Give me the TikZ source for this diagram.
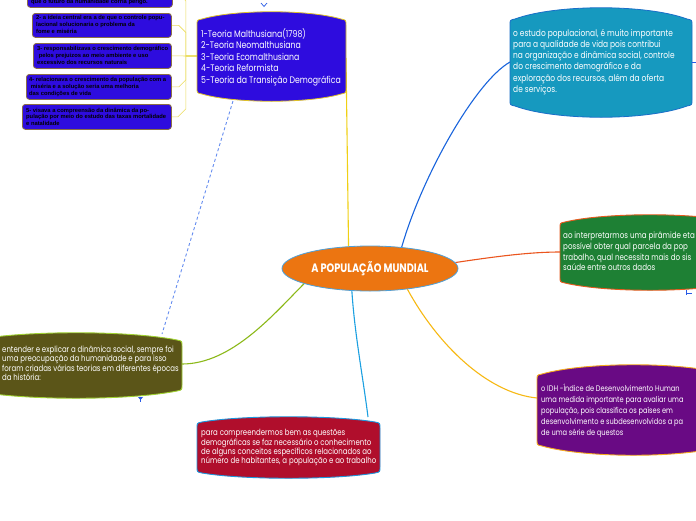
\documentclass[tikz,border=0pt]{standalone}
\usepackage{fontspec}
\usetikzlibrary{shapes.geometric,backgrounds}
\newfontfamily\nf[FakeStretch=0.82]{Poppins}
\newfontfamily\tf[FakeStretch=0.8]{Poppins}
\newfontfamily\smallfont{Liberation Sans}
\definecolor{themeblue}{RGB}{46,12,222}
\definecolor{theoryborder}{RGB}{222,192,40}
\definecolor{tealfill}{RGB}{22,153,191}
\definecolor{tealborder}{RGB}{25,110,200}
\definecolor{greenfill}{RGB}{30,128,52}
\definecolor{greenborder}{RGB}{232,90,30}
\definecolor{purplefill}{RGB}{105,10,132}
\definecolor{purpleborder}{RGB}{245,170,30}
\definecolor{redfill}{RGB}{176,14,44}
\definecolor{redborder}{RGB}{30,150,220}
\definecolor{olivefill}{RGB}{91,85,24}
\definecolor{oliveborder}{RGB}{160,210,50}
\definecolor{orangefill}{RGB}{236,117,17}
\definecolor{ellborder}{RGB}{80,160,215}
\definecolor{cyellow}{RGB}{240,208,20}
\definecolor{cblue}{RGB}{25,100,220}
\definecolor{corange}{RGB}{235,85,30}
\definecolor{camber}{RGB}{247,185,20}
\definecolor{clight}{RGB}{28,160,225}
\definecolor{cgreen}{RGB}{140,185,25}
\definecolor{cdash}{RGB}{100,140,240}
\definecolor{csmall}{RGB}{235,220,90}
\definecolor{smallborder}{RGB}{140,110,70}
\definecolor{markblue}{RGB}{40,90,230}
\newcommand{\bulgebox}[6]{%
 \pgfmathsetmacro\bxl{#1}\pgfmathsetmacro\bxr{#3}%
 \pgfmathsetmacro\bya{#2+#5}%
 \pgfmathsetmacro\byb{#4-#5}%
 \pgfmathsetmacro\byc{#2-#5/3}%
 \pgfmathsetmacro\byd{#4+#5/3}%
 \pgfmathsetmacro\bxa{#1+(#3-#1)/4}%
 \pgfmathsetmacro\bxb{#3-(#3-#1)/4}%
 \path[#6] (\bxl,\bya+5) -- (\bxl,\byb-5) .. controls (\bxl,\byb) .. (\bxl+5,\byb+1)
   .. controls (\bxa,\byd) and (\bxb,\byd) .. (\bxr-5,\byb+1)
   .. controls (\bxr,\byb) .. (\bxr,\byb-5) -- (\bxr,\bya+5)
   .. controls (\bxr,\bya) .. (\bxr-5,\bya-1)
   .. controls (\bxb,\byc) and (\bxa,\byc) .. (\bxl+5,\bya-1)
   .. controls (\bxl,\bya) .. cycle;}
\begin{document}
\begin{tikzpicture}[x=1pt,y=-1pt,
  mtext/.style={anchor=north west, inner sep=0pt, align=left, text=white},
  stext/.style={anchor=north west, inner sep=0pt, align=left, text=black, font=\smallfont\bfseries\fontsize{5.8}{6.7}\selectfont},
  smallbox/.style={draw=smallborder, fill=themeblue, rounded corners=3pt, line width=0.8pt, inner sep=0pt, anchor=north west},
  smallconn/.style={draw=csmall, line width=0.6pt},
  conn/.style={line width=1.1pt},
  marker/.style={draw=markblue, line width=0.7pt}]
\useasboundingbox (0,0) rectangle (696,520);
\clip (0,0) rectangle (696,520);
\begin{scope}[on background layer]
\fill[white] (0,0) rectangle (696,520);
\end{scope}
% connection points
\coordinate (thL) at (197,56);
\coordinate (thR) at (346,58);
\coordinate (thB) at (233,101);
\coordinate (tealL) at (510,62);
\coordinate (greenL) at (560,252);
\coordinate (purpL) at (537,398);
\coordinate (redT) at (368,417);
\coordinate (oliveR) at (182,364);
\coordinate (oliveT) at (162,334);
% main boxes
\bulgebox{197}{12}{346}{101}{8}{fill=themeblue,draw=theoryborder,line width=0.8pt}
\bulgebox{510}{8}{692}{117}{12}{fill=tealfill,draw=tealborder,line width=0.8pt}
\bulgebox{560}{215}{740}{290}{8}{fill=greenfill,draw=greenborder,line width=0.9pt}
\bulgebox{537}{365}{730}{455}{10}{fill=purplefill,draw=purpleborder,line width=0.9pt}
\bulgebox{197}{417}{380}{478}{6}{fill=redfill,draw=redborder,line width=0.9pt}
\bulgebox{-30}{333}{182}{398}{8}{fill=olivefill,draw=oliveborder,line width=0.9pt}
% central node
\node[ellipse, fill=orangefill, draw=ellborder, line width=0.8pt, minimum width=176pt, minimum height=45pt, inner sep=0pt, text=white, font=\tf\bfseries\fontsize{12.2}{13}\selectfont] (c) at (370,268.5) {A POPULAÇÃO MUNDIAL};
% texts
\node[mtext, font=\nf\fontsize{9.5}{11.5}\selectfont] (thtext) at (201,28) {1-Teoria Malthusiana(1798)\\2-Teoria Neomalthusiana\\3-Teoria Ecomalthusiana\\4-Teoria Reformista\\5-Teoria da Transição Demográfica};
\node[mtext, font=\nf\fontsize{9.1}{11.2}\selectfont] (tealtext) at (513,29) {o estudo populacional, é muito importante\\para a qualidade de vida pois contribui\\na organização e dinâmica social, controle\\do crescimento demográfico e da\\exploração dos recursos, além da oferta\\de serviços.};
\node[mtext, font=\nf\fontsize{8.7}{10.7}\selectfont] (greentext) at (563,232) {ao interpretarmos uma pirâmide eta\\possível obter qual parcela da pop\\trabalho, qual necessita mais do sis\\saúde entre outros dados};
\node[mtext, font=\nf\fontsize{8.1}{11}\selectfont] (purptext) at (541,383.5) {o IDH -Índice de Desenvolvimento Human\\uma medida importante para avaliar uma\\população, pois classifica os países em\\desenvolvimento e subdesenvolvidos a pa\\de uma série de questos};
\node[mtext, font=\nf\fontsize{8.5}{9.3}\selectfont] (redtext) at (201,429.5) {para compreendermos bem as questões\\demográficas se faz necessário o conhecimento\\de alguns conceitos específicos relacionados ao\\número de habitantes, a população e ao trabalho};
\node[mtext, font=\nf\fontsize{8.5}{9.5}\selectfont] (olivetext) at (2,345.5) {entender e explicar a dinâmica social, sempre foi\\uma preocupação da humanidade e para isso\\foram criadas várias teorias em diferentes épocas\\da história:};
% small boxes
\node[smallbox, minimum width=145pt, minimum height=27pt] (b1) at (27,-20) {};
\node[smallbox, minimum width=139pt, minimum height=24pt] (b2) at (32,13) {};
\node[smallbox, minimum width=138pt, minimum height=25pt] (b3) at (33,43) {};
\node[smallbox, minimum width=145pt, minimum height=25pt] (b4) at (26,74) {};
\node[smallbox, minimum width=149pt, minimum height=25pt] (b5) at (22,104) {};
\node[stext] (t1) at (31,-0.5) {que o futuro da humanidade corria perigo.};
\node[stext] (t2) at (36,15.5) {2- a ideia central era a de que o controle popu-\\lacional solucionaria o problema da\\fome e miséria};
\node[stext] (t3) at (37,46.5) {3- responsabilizava o crescimento demográfico\\\ pelos prejuizos ao meio ambiente e uso\\excessivo dos recursos naturais};
\node[stext] (t4) at (29,77.5) {4- relacionava o crescimento da população com a\\\ miséria e a solução seria uma melhoria\\das condições de vida};
\node[stext] (t5) at (26,107.5) {5- visava a compreensão da dinâmica da po-\\pulação por meio do estudo das taxas mortalidade\\e natalidade};
% markers
\draw[marker] (261,3) -- (264,6.5) -- (267,3);
\draw[marker] (692,62) -- (696,62);
\draw[marker] (686,290) -- (686,295) (686,293) -- (692,293);
\fill[markblue] (138,397) -- (143,397) -- (140.5,400) -- cycle;
\draw[marker] (140.5,399) -- (140.5,402);
% connectors
\begin{scope}[on background layer]
\draw[smallconn] (b1.east) -- ++(7,0) -- ++(6,7) |- (thL);
\draw[smallconn] (b2.east) -- ++(7,0) -- ++(7,7) |- (thL);
\draw[smallconn] (b3.east) -- (thL);
\draw[smallconn] (b4.east) -- ++(7,0) -- ++(7,-7) |- (thL);
\draw[smallconn] (b5.east) -- ++(6,0) -- ++(8,-8) |- (thL);
\draw[conn, cyellow] (c.134) -- (thR);
\draw[conn, cblue] (c.34) .. controls +(20,-70) and +(-35,20) .. (tealL);
\draw[conn, corange] (c.4) .. controls +(40,-6) and +(-30,0) .. (greenL);
\draw[conn, camber] (c.-29) .. controls +(30,55) and +(-50,-5) .. (purpL);
\draw[conn, clight] (c.-129) .. controls +(3,45) and +(-5,-40) .. (redT);
\draw[conn, cgreen] (oliveR) .. controls +(50,0) and +(-30,30) .. (c.193);
\draw[cdash, line width=0.9pt, dash pattern=on 3pt off 2.5pt] (thB) -- (oliveT);
\end{scope}
\end{tikzpicture}
\end{document}
